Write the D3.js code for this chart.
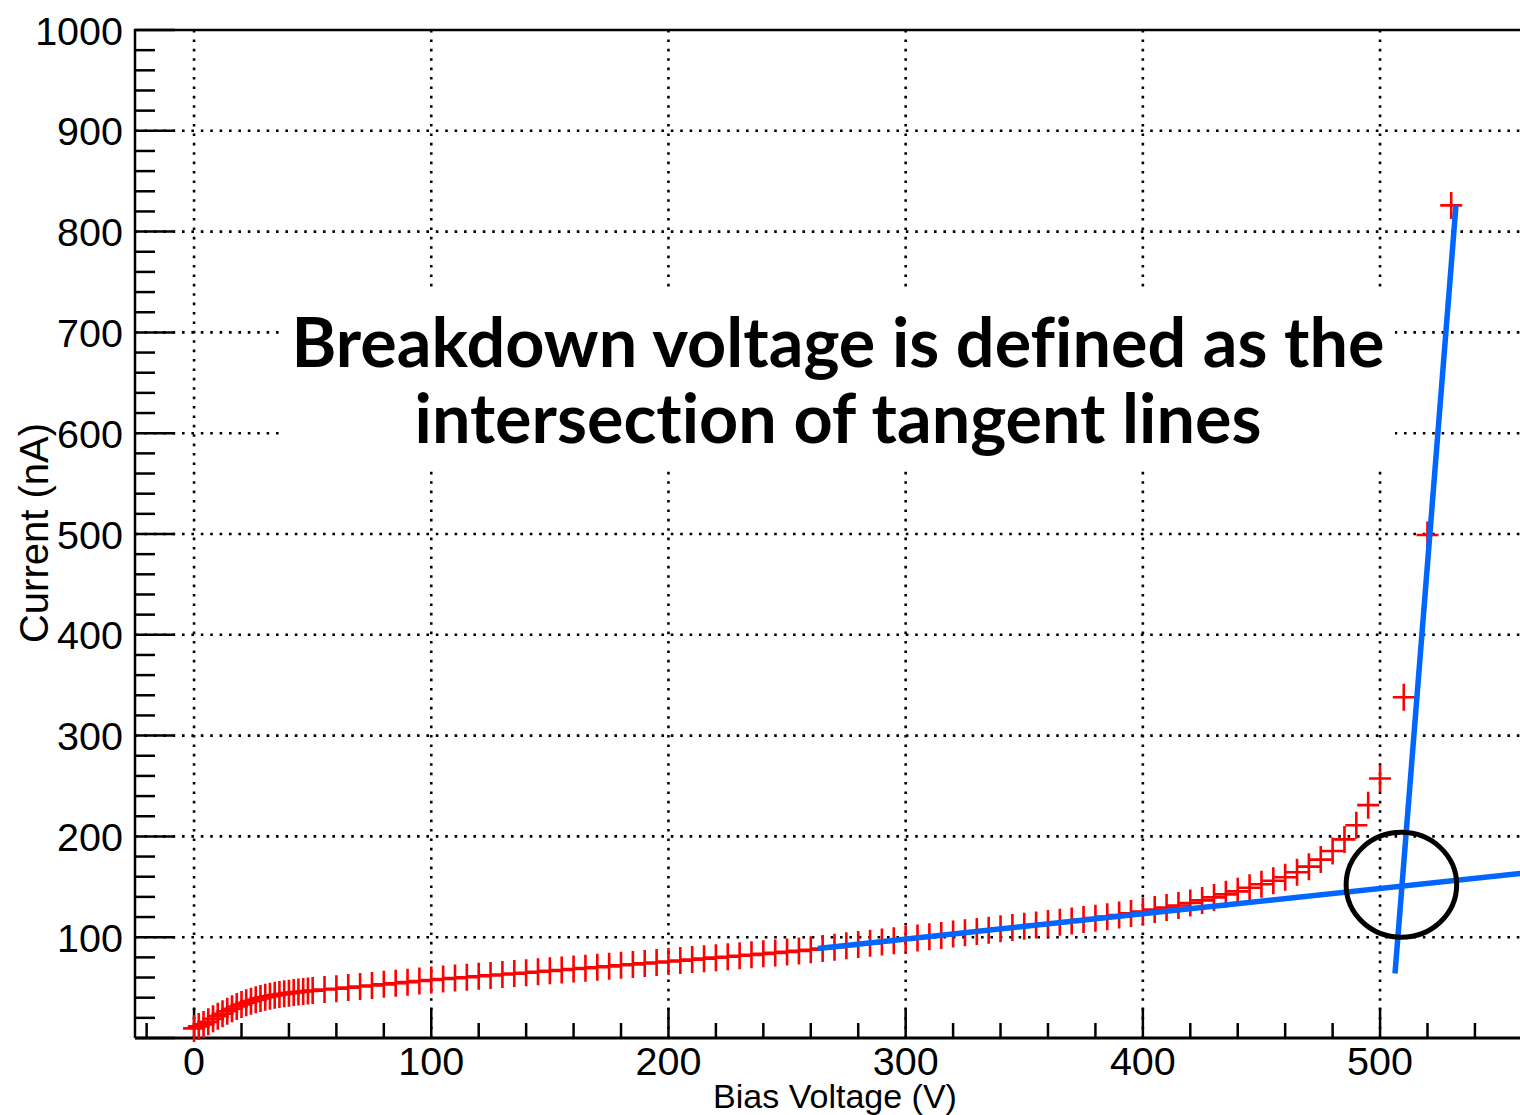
<!DOCTYPE html>
<html>
<head>
<meta charset="utf-8">
<script src="https://cdn.jsdelivr.net/npm/d3@7"></script>
<style>
  html, body { margin: 0; padding: 0; background: #fff; }
  svg { display: block; }
  .note text { font-variant-ligatures: none; font-feature-settings: "liga" 0, "clig" 0; }
</style>
</head>
<body>
<svg id="chart" width="1520" height="1115"></svg>
<script>
// ---------------- data ----------------
const voltages = [0,2,4,6,8,10,12,14,16,18,20,22,24,26,28,30,32,34,36,38,40,42,44,46,48,50,
  55,60,65,70,75,80,85,90,95,100,105,110,115,120,125,130,135,140,145,150,155,160,165,170,175,
  180,185,190,195,200,205,210,215,220,225,230,235,240,245,250,255,260,265,270,275,280,285,290,
  295,300,305,310,315,320,325,330,335,340,345,350,355,360,365,370,375,380,385,390,395,400,405,
  410,415,420,425,430,435,440,445,450,455,460,465,470,475,480,485,490,495,500,510,520,530];
const currents = [9.5,11.5,13.5,16,19,21.7,24,26.6,29,31.3,33.2,34.9,36.5,37.9,39.3,40.4,41.4,42.3,43.1,43.8,44.5,45.1,45.6,46.1,46.6,47.0,
  48.1,48.9,50.0,51.1,52.1,53.2,54.3,55.4,56.5,57.6,58.5,59.4,60.3,61.2,62.1,63.0,63.9,64.8,65.7,66.6,67.5,68.4,69.3,70.2,71.1,
  72.1,73.0,74.0,74.9,75.9,76.8,77.8,78.7,79.7,80.6,81.6,82.5,83.5,84.4,85.4,86.4,87.5,88.8,90.1,91.4,92.7,94.0,95.3,
  96.6,97.9,99.2,100.5,101.8,103.1,104.4,105.7,107.0,108.3,109.6,110.9,112.2,113.5,114.8,116.1,117.5,118.9,120.4,121.9,123.6,125.5,127.5,
  129.5,131.5,134.0,136.5,139.5,142.5,145.5,149.0,152.5,156.0,159.5,164.5,170.0,177.0,185.5,197.0,211.0,231.0,257.5,338,499,826];

// tangent lines (endpoints in data units)
const tangentLow  = [[263, 88.8], [560, 163.5]];
const tangentHigh = [[506.3, 64], [532, 826]];
// marked intersection (data units): center and radii
const markCenter = [509, 152];
const markRadius = [23.3, 52];

const xMajorTicks = [0, 100, 200, 300, 400, 500];
const yMajorTicks = [100, 200, 300, 400, 500, 600, 700, 800, 900, 1000];
const xMinorTicks = d3.range(-20, 561, 20);
const yMinorTicks = d3.range(0, 1001, 20);

const xTitle = "Bias Voltage (V)";
const yTitle = "Current (nA)";
const noteLines = ["Breakdown voltage is defined as the", "intersection of tangent lines"];

// ---------------- layout ----------------
const L = 135, R = 1520, T = 30, B = 1038;
const x = d3.scaleLinear().domain([-24.9, 559]).range([L, R]);
const y = d3.scaleLinear().domain([0, 1000]).range([B, T]);

const svg = d3.select("#chart");
const axisFont = "'Liberation Sans', Arial, Helvetica, sans-serif";

// grid (dotted)
const grid = svg.append("g")
  .attr("stroke", "#000").attr("stroke-width", 2.6).attr("stroke-dasharray", "2.6 6.8");
grid.selectAll("line.v").data(xMajorTicks).join("line")
  .attr("x1", d => x(d)).attr("x2", d => x(d)).attr("y1", T).attr("y2", B);
grid.selectAll("line.h").data(yMajorTicks.filter(d => d < 1000)).join("line")
  .attr("x1", L).attr("x2", R).attr("y1", d => y(d)).attr("y2", d => y(d));

// frame
svg.append("path")
  .attr("d", `M${L},${B}V${T}H${R}`)
  .attr("fill", "none").attr("stroke", "#000").attr("stroke-width", 2.5);
svg.append("line").attr("x1", L).attr("x2", R).attr("y1", B).attr("y2", B)
  .attr("stroke", "#000").attr("stroke-width", 3);

// ticks - y axis (inward, to the right)
const yt = svg.append("g").attr("stroke", "#000").attr("stroke-width", 2.5);
yt.selectAll("line").data(yMinorTicks).join("line")
  .attr("x1", L).attr("x2", d => L + (d % 100 === 0 ? 40 : 20))
  .attr("y1", d => y(d)).attr("y2", d => y(d));
// ticks - x axis (inward, upward)
const xt = svg.append("g").attr("stroke", "#000").attr("stroke-width", 2.5);
xt.selectAll("line").data(xMinorTicks.filter(d => x(d) < R)).join("line")
  .attr("x1", d => x(d)).attr("x2", d => x(d))
  .attr("y1", B).attr("y2", d => B - (d % 100 === 0 ? 30 : 15));

// tick labels
svg.append("g").selectAll("text").data(yMajorTicks).join("text")
  .attr("x", 123).attr("y", d => y(d) + 14.5)
  .attr("text-anchor", "end")
  .attr("font-family", axisFont).attr("font-size", 39.5)
  .text(d => d);
svg.append("g").selectAll("text").data(xMajorTicks).join("text")
  .attr("x", d => x(d)).attr("y", 1075)
  .attr("text-anchor", "middle")
  .attr("font-family", axisFont).attr("font-size", 39.5)
  .text(d => d);

// axis titles
svg.append("text")
  .attr("x", 835).attr("y", 1108)
  .attr("text-anchor", "middle")
  .attr("font-family", axisFont).attr("font-size", 34)
  .text(xTitle);
svg.append("text")
  .attr("transform", "translate(48,533) rotate(-90)")
  .attr("text-anchor", "middle")
  .attr("font-family", axisFont).attr("font-size", 40)
  .text(yTitle);

// annotation box + text
svg.append("rect")
  .attr("x", 280).attr("y", 292).attr("width", 1115).attr("height", 178)
  .attr("fill", "#fff");
const note = svg.append("g")
  .attr("class", "note")
  .attr("font-family", "Lato, 'Open Sans', sans-serif")
  .attr("font-weight", "bold")
  .attr("text-anchor", "middle");
const noteBaselines = [367, 443];
const noteTexts = note.selectAll("text").data(noteLines).join("text")
  .attr("x", 838).attr("y", (d, i) => noteBaselines[i])
  .attr("font-size", 60)
  .text(d => d);
// fit first line to its measured width in the reference
const w0 = noteTexts.nodes()[0].getComputedTextLength();
const fs = 60 * 1093 / w0;
noteTexts.attr("font-size", fs);

// data markers (+)
const hw = 11, hh = 13.5;
const pts = voltages.map((v, i) => [v, currents[i]]);
svg.append("g")
  .attr("stroke", "#ff0000").attr("stroke-width", 2.6).attr("fill", "none")
  .selectAll("path").data(pts).join("path")
  .attr("d", d => {
    const px = x(d[0]), py = y(d[1]);
    return `M${px - hw},${py}H${px + hw}M${px},${py - hh}V${py + hh}`;
  });

// tangent lines
const line = d3.line().x(d => x(d[0])).y(d => y(d[1]));
[tangentLow, tangentHigh].forEach(seg => {
  svg.append("path").attr("d", line(seg))
    .attr("fill", "none").attr("stroke", "#0066ff").attr("stroke-width", 5.5);
});

// intersection marker
svg.append("ellipse")
  .attr("cx", x(markCenter[0])).attr("cy", y(markCenter[1]))
  .attr("rx", x(markCenter[0] + markRadius[0]) - x(markCenter[0]))
  .attr("ry", y(markCenter[1]) - y(markCenter[1] + markRadius[1]))
  .attr("fill", "none").attr("stroke", "#000").attr("stroke-width", 5);
</script>
</body>
</html>
